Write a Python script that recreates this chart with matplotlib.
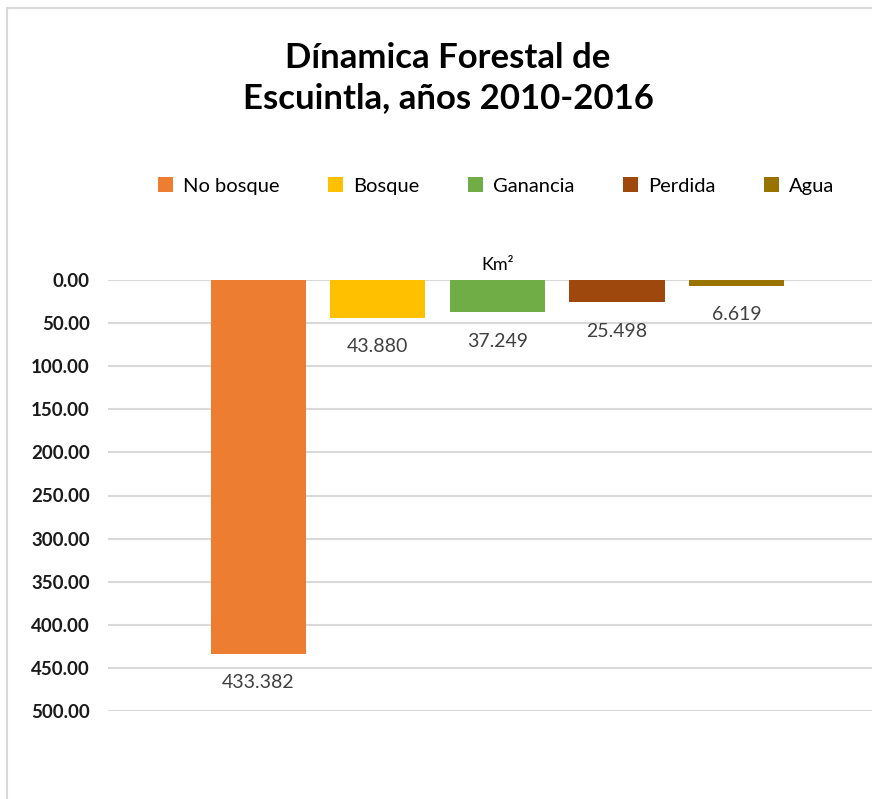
import matplotlib
matplotlib.use("Agg")
import matplotlib.pyplot as plt
from matplotlib.patches import Rectangle, Patch

categories = ["No bosque", "Bosque", "Ganancia", "Perdida", "Agua"]
values = [433.382, 43.880, 37.249, 25.498, 6.619]
colors = ["#ED7D31", "#FFC000", "#70AD47", "#9E480E", "#997300"]
value_labels = ["433.382", "43.880", "37.249", "25.498", "6.619"]
yticks = [0, 50, 100, 150, 200, 250, 300, 350, 400, 450, 500]
ytick_labels = [f"{v:.2f}" for v in yticks]

W, H = 872, 799
fig = plt.figure(figsize=(W / 100, H / 100), dpi=100)
fig.patch.set_facecolor("white")

# chart border
fig.add_artist(Rectangle((7 / W, -0.05), 1.1, (H - 8) / H + 0.05, transform=fig.transFigure,
                         fill=False, edgecolor="#D9D9D9", linewidth=1.5))

left, right = 108, 872
top, bottom = 280, 711
ax = fig.add_axes([left / W, 1 - bottom / H, (right - left) / W, (bottom - top) / H])
ax.set_facecolor("none")

x = list(range(len(categories)))
bars = ax.bar(x, values, width=0.795, color=colors, zorder=3)
ax.set_ylim(500, 0)
ax.set_xlim(-1.258, 5.133)
ax.set_yticks(yticks)
ax.set_yticklabels(ytick_labels)
ax.set_xticks([])
for s in ax.spines.values():
    s.set_visible(False)
ax.yaxis.grid(True, color="#D9D9D9", linewidth=1.5, zorder=0)
ax.tick_params(axis="y", length=0, pad=13)
for lbl in ax.get_yticklabels():
    lbl.set_fontfamily("Lato")
    lbl.set_fontweight("bold")
    lbl.set_fontsize(13.5)
    lbl.set_color("#1a1a1a")

for xi, v, t in zip(x, values, value_labels):
    ax.annotate(t, (xi, v), xytext=(0, -21), textcoords="offset points",
                ha="center", va="center", fontsize=14, color="#404040",
                family="Lato")

ax.text(2, -8, "Km²", transform=ax.transData, ha="center", va="bottom",
        fontsize=13, family="Lato", color="#000000")

fig.text(448 / W, 1 - 78 / H, "Dínamica Forestal de\nEscuintla, años 2010-2016",
         ha="center", va="center", fontsize=25, fontweight="bold", family="Lato",
         linespacing=1.3, color="#000000")

handles = [Patch(facecolor=c, edgecolor="none") for c in colors]
fig.legend(handles, categories, loc="center", bbox_to_anchor=(496 / W, 1 - 186 / H),
           ncol=5, frameon=False, prop={"family": "Lato", "size": 14.5},
           handlelength=0.75, handleheight=0.75, handletextpad=0.5, columnspacing=2.4)

fig.savefig("out.png", dpi=100)
